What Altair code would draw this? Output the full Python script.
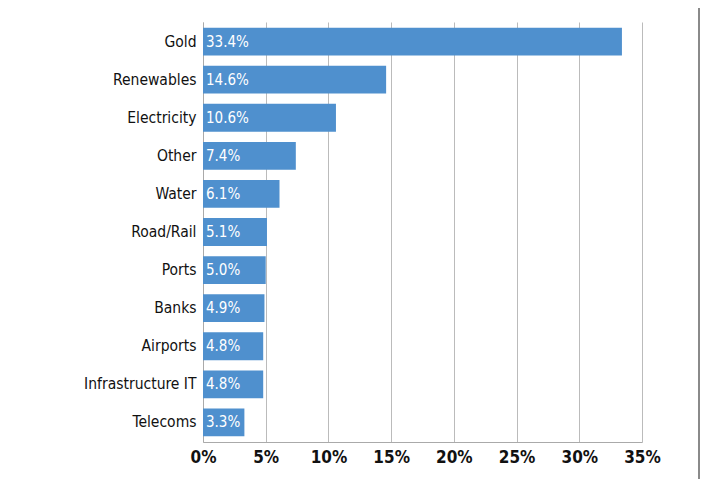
import altair as alt
import pandas as pd

categories = ["Gold", "Renewables", "Electricity", "Other", "Water", "Road/Rail",
              "Ports", "Banks", "Airports", "Infrastructure IT", "Telecoms"]
values = [33.4, 14.6, 10.6, 7.4, 6.1, 5.1, 5.0, 4.9, 4.8, 4.8, 3.3]
labels = ["33.4%", "14.6%", "10.6%", "7.4%", "6.1%", "5.1%", "5.0%", "4.9%", "4.8%", "4.8%", "3.3%"]
x_ticks = [0, 5, 10, 15, 20, 25, 30, 35]

df = pd.DataFrame({"cat": categories, "val": values, "lab": labels})

FONT = "'DejaVu Sans Condensed', 'Liberation Sans Narrow', 'Arial Narrow', sans-serif"
BLUE = "#4f90ce"

y_enc = alt.Y("cat:N", sort=categories, title=None,
              scale=alt.Scale(paddingInner=0.27, paddingOuter=0.15),
              axis=alt.Axis(labelFont=FONT, labelFontSize=15.5, labelColor="#111",
                            ticks=False, labelPadding=7, domainColor="#aaa",
                            labelFontWeight="normal"))
x_enc = alt.X("val:Q", title=None,
              scale=alt.Scale(domain=[0, 35], nice=False),
              axis=alt.Axis(values=x_ticks, labelExpr="datum.value + '%'",
                            labelFont=FONT, labelFontSize=17, labelColor="#111",
                            labelFontWeight="bold", labelFlush=False,
                            ticks=False, labelPadding=7, grid=True,
                            gridColor="#bbbbbb", domainColor="#aaa"))

bars = alt.Chart(df).mark_bar(color=BLUE).encode(x=x_enc, y=y_enc)
text = alt.Chart(df).mark_text(align="left", baseline="middle", dx=3, color="white",
                               font=FONT, fontSize=15).encode(
    x=alt.datum(0), y=alt.Y("cat:N", sort=categories), text="lab:N")

border = alt.Chart(df).mark_rule(color="#8a8a8a", strokeWidth=2).encode(
    x=alt.value(496), y=alt.value(-14), y2=alt.value(460))

chart = (bars + text + border).properties(
    width=439, height=420,
    autosize=alt.AutoSizeParams(type="none"),
    padding={"left": 195, "top": 14, "right": 58, "bottom": 37},
    background="white",
).configure_view(stroke=None)

chart.save("out.html", embed_options={"renderer": "svg", "actions": False})
